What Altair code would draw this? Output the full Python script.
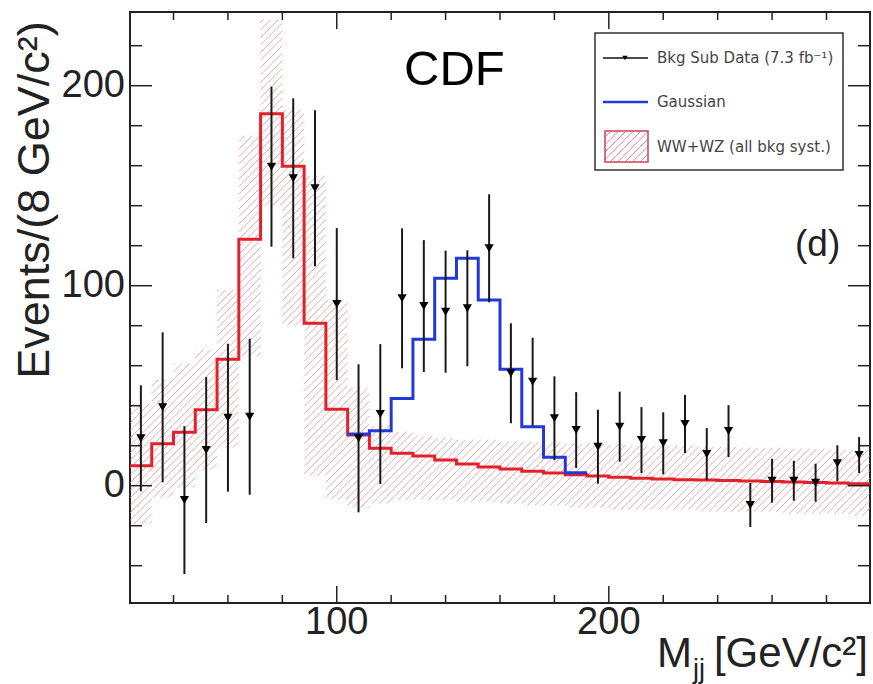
import altair as alt
import pandas as pd

# ---------------- data ----------------
centers = [28, 36, 44, 52, 60, 68, 76, 84, 92, 100, 108, 116, 124, 132, 140, 148, 156,
           164, 172, 180, 188, 196, 204, 212, 220, 228, 236, 244, 252, 260, 268, 276, 284, 292]
data_vals = [23.7, 39.2, -7.2, 17.8, 34.0, 34.5, 159.5, 153.7, 148.7, 90.8, 23.7, 35.8,
             93.7, 89.8, 87.0, 88.7, 118.7, 56.2, 52.0, 33.7, 27.8, 19.5, 29.5, 22.8,
             21.2, 30.8, 15.8, 27.3, -9.7, 2.5, 2.5, 1.5, 11.2, 15.3]
data_errs = [26.5, 37.5, 37.0, 36.5, 37.0, 39.0, 40.0, 40.0, 39.0, 38.0, 37.0, 35.0,
             35.0, 33.0, 30.5, 29.0, 27.0, 25.0, 22.0, 21.0, 19.0, 18.5, 17.5, 16.5,
             15.5, 14.5, 13.0, 13.0, 11.0, 11.0, 10.0, 9.5, 9.0, 9.0]
wwwz_vals = [10.0, 21.0, 26.7, 38.0, 63.2, 123.2, 186.0, 159.7, 81.2, 38.2, 25.3, 18.7,
             16.2, 14.8, 12.8, 10.8, 9.3, 8.3, 7.2, 6.3, 5.5, 4.8, 4.2, 3.7, 3.3, 3.0,
             2.8, 2.6, 2.4, 2.1, 1.9, 1.6, 1.3, 1.0]
band_lo = [-19, -6, -1, 8, 19, 65, 140, 80, 5, -7, -11, -9, -7, -7, -7, -8, -8, -9, -10,
           -10, -11, -11, -12, -12, -12, -12, -13, -13, -13, -13, -14, -14, -14, -15]
band_hi = [41, 53, 61, 68, 98, 175, 233, 188, 155, 93, 49, 30, 27, 25, 24, 23, 23, 22, 22,
           21.5, 21, 21, 20.5, 20, 20, 20, 19.5, 19.5, 19, 19, 18.5, 18.5, 18, 18]
gauss_centers = [108, 116, 124, 132, 140, 148, 156, 164, 172, 180, 188]
gauss_vals = [25.8, 27.5, 43.6, 73.2, 103.7, 113.7, 92.8, 58.2, 29.5, 14.2, 6.5]

bin_half = 4
x_dom = [24, 296]
y_dom = [-58.65, 236.85]
y_major = [0, 100, 200]
y_minor = [-40, -20, 20, 40, 60, 80, 120, 140, 160, 180, 220]
x_major = [100, 200]
x_minor = [40, 60, 80, 120, 140, 160, 180, 220, 240, 260, 280]

W, H = 740, 591
FONT = "Liberation Sans"
RED = "#e3212b"
BLUE = "#2238d8"
HATCH = "#dc8494"

xs = alt.Scale(domain=x_dom, nice=False, zero=False)
ys = alt.Scale(domain=y_dom, nice=False, zero=False)

# ---------------- derived tables ----------------
def step_table(cs, vs):
    xe = [c - bin_half for c in cs] + [cs[-1] + bin_half]
    ve = list(vs) + [vs[-1]]
    return pd.DataFrame({"x": xe, "y": ve})

red_df = step_table(centers, wwwz_vals)
blue_df = step_table(gauss_centers, gauss_vals)
pts_df = pd.DataFrame({
    "x": centers, "y": data_vals,
    "lo": [v - e for v, e in zip(data_vals, data_errs)],
    "hi": [v + e for v, e in zip(data_vals, data_errs)],
})

# hatch segments for the systematic band (45 degree lines in screen space)
sx = W / (x_dom[1] - x_dom[0])
sy = H / (y_dom[1] - y_dom[0])
step = 7.5
segs = []
for c, lo, hi in zip(centers, band_lo, band_hi):
    X0 = (c - bin_half - x_dom[0]) * sx
    X1 = (c + bin_half - x_dom[0]) * sx
    Y0 = (lo - y_dom[0]) * sy
    Y1 = (hi - y_dom[0]) * sy
    k0 = int((X0 - Y1) // step) - 1
    k1 = int((X1 - Y0) // step) + 1
    for k in range(k0, k1 + 1):
        cc = k * step
        ya = max(Y0, X0 - cc)
        yb = min(Y1, X1 - cc)
        if yb > ya:
            segs.append({
                "x": (ya + cc) / sx + x_dom[0], "y": ya / sy + y_dom[0],
                "x2": (yb + cc) / sx + x_dom[0], "y2": yb / sy + y_dom[0],
            })
hatch_df = pd.DataFrame(segs)

one = pd.DataFrame({"k": [0]})

def X(f):
    return alt.X(f, scale=xs, axis=None)

def Y(f):
    return alt.Y(f, scale=ys, axis=None)

# ---------------- layers ----------------
hatch = alt.Chart(hatch_df).mark_rule(color=HATCH, strokeWidth=1, opacity=0.7, clip=True).encode(
    x=X("x:Q"), y=Y("y:Q"), x2="x2:Q", y2="y2:Q")
red = alt.Chart(red_df).mark_line(interpolate="step-after", color=RED, strokeWidth=3, clip=True).encode(
    x=X("x:Q"), y=Y("y:Q"))
blue = alt.Chart(blue_df).mark_line(interpolate="step-after", color=BLUE, strokeWidth=3, clip=True).encode(
    x=X("x:Q"), y=Y("y:Q"))
ebars = alt.Chart(pts_df).mark_rule(color="#1a1a1a", strokeWidth=2, clip=True).encode(
    x=X("x:Q"), y=Y("lo:Q"), y2="hi:Q")
marks = alt.Chart(pts_df).mark_point(shape="triangle-down", filled=True, size=85, color="#000", opacity=1).encode(
    x=X("x:Q"), y=Y("y:Q"))

def yticks(vals, x0, x1):
    return alt.Chart(pd.DataFrame({"v": vals})).mark_rule(color="#222", strokeWidth=1.5).encode(
        y=Y("v:Q"), x=alt.value(x0), x2=alt.value(x1))

def xticks(vals, y0, y1):
    return alt.Chart(pd.DataFrame({"v": vals})).mark_rule(color="#222", strokeWidth=1.5).encode(
        x=X("v:Q"), y=alt.value(y0), y2=alt.value(y1))

ticks = [
    yticks(y_major, 0, 22), yticks(y_minor, 0, 12),
    yticks(y_major, W - 22, W), yticks(y_minor, W - 12, W),
    xticks(x_major, H - 17, H), xticks(x_minor, H - 8, H),
    xticks(x_major, 0, 17), xticks(x_minor, 0, 8),
]

tick_labels = [
    alt.Chart(pd.DataFrame({"v": y_major})).mark_text(
        align="right", baseline="middle", font=FONT, fontSize=38, color="#222").encode(
        y=Y("v:Q"), x=alt.value(-5), text=alt.Text("v:Q", format="d")),
    alt.Chart(pd.DataFrame({"v": x_major})).mark_text(
        align="center", baseline="top", font=FONT, fontSize=38, color="#222").encode(
        x=X("v:Q"), y=alt.value(H + 1), text=alt.Text("v:Q", format="d")),
]

def txt(text, x, y, size, align="left", baseline="alphabetic", font=FONT, color="#111", angle=0):
    return alt.Chart(one).mark_text(text=text, align=align, baseline=baseline, fontSize=size,
                                    font=font, color=color, angle=angle).encode(
        x=alt.value(x), y=alt.value(y))

def rule_px(x0, y0, x1, y1, color, width):
    return alt.Chart(one).mark_rule(color=color, strokeWidth=width).encode(
        x=alt.value(x0), y=alt.value(y0), x2=alt.value(x1), y2=alt.value(y1))

# legend
LX0, LX1, LY0, LY1 = 465, 713, 21, 158
legend = [
    alt.Chart(one).mark_rect(fill="white", stroke="#333", strokeWidth=1.5).encode(
        x=alt.value(LX0), x2=alt.value(LX1), y=alt.value(LY0), y2=alt.value(LY1)),
    rule_px(473, 46, 518, 46, "#111", 1.5),
    alt.Chart(one).mark_point(shape="triangle-down", filled=True, size=30, color="#000", opacity=1).encode(
        x=alt.value(495), y=alt.value(46)),
    rule_px(473, 90, 518, 90, BLUE, 2.5),
]
bx0, bx1, by0, by1 = 475, 518, 119, 150
for k in range(int((bx0 + by0) // 7.5), int((bx1 + by1) // 7.5) + 1):
    cc = k * 7.5
    xa = max(bx0, cc - by1)
    xb = min(bx1, cc - by0)
    if xb > xa:
        legend.append(rule_px(xa, cc - xa, xb, cc - xb, HATCH, 1))
legend.append(alt.Chart(one).mark_rect(fill=None, stroke="#d2405e", strokeWidth=1.5).encode(
    x=alt.value(bx0), x2=alt.value(bx1), y=alt.value(by0), y2=alt.value(by1)))
LF = "DejaVu Sans"
legend += [
    txt("Bkg Sub Data (7.3 fb⁻¹)", 527, 46, 15, baseline="middle", font=LF, color="#444"),
    txt("Gaussian", 527, 90, 15, baseline="middle", font=LF, color="#444"),
    txt("WW+WZ (all bkg syst.)", 527, 135, 15, baseline="middle", font=LF, color="#444"),
]

labels = [
    txt("CDF", 274, 73, 49, color="#000"),
    txt("(d)", 665, 244, 37, color="#222"),
    txt("M", 562, 655, 42, align="right", color="#222"),
    txt("jj", 563, 666, 27, align="left", color="#222"),
    txt("[GeV/c²]", 738, 655, 42, align="right", color="#222"),
    txt("Events/(8 GeV/c²)", -72, 188, 45, align="center", baseline="bottom", color="#222", angle=270),
]

chart = alt.layer(hatch, red, blue, ebars, marks, *ticks, *tick_labels, *legend, *labels).properties(
    width=W, height=H,
    autosize=alt.AutoSizeParams(type="none"),
    padding={"left": 130, "top": 12, "right": 3, "bottom": 81},
    background="white",
).configure_view(stroke="#222", strokeWidth=2)

chart.save("out.html", embed_options={"renderer": "svg", "actions": False})
